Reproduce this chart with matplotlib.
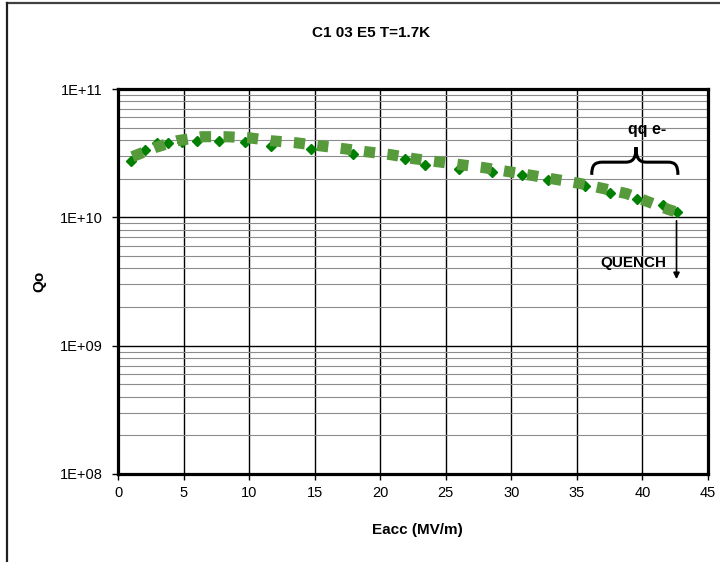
import numpy as np
import matplotlib
matplotlib.use("Agg")
import matplotlib.pyplot as plt
from matplotlib.path import Path
from matplotlib.patches import PathPatch
from matplotlib.lines import Line2D
from matplotlib.ticker import FixedLocator, FuncFormatter, NullFormatter

plt.rcParams['font.family'] = ['Liberation Sans', 'DejaVu Sans']

# measured points, Qo vs Eacc at 1.7 K
eacc = [1.0, 2.05, 2.95, 3.8, 4.9, 6.05, 7.7, 9.7, 11.7, 14.7, 17.9, 21.9,
        23.4, 26.0, 28.5, 30.8, 32.8, 35.6, 37.5, 39.6, 41.6, 42.6]
qo = [2.77e10, 3.37e10, 3.81e10, 3.81e10, 3.88e10, 3.95e10, 3.95e10, 3.88e10,
      3.61e10, 3.43e10, 3.13e10, 2.87e10, 2.58e10, 2.40e10, 2.27e10, 2.12e10,
      1.97e10, 1.74e10, 1.56e10, 1.38e10, 1.24e10, 1.11e10]

# smoothed curve through the measurements
trend_e = [1.1, 2.8, 4.5, 6.4, 8.2, 10.0, 11.7, 13.6, 15.4, 17.2, 18.9, 20.8,
           22.5, 27.9, 31.6, 35.2, 38.8, 42.0, 42.7]
trend_q = [2.97e10, 3.49e10, 3.95e10, 4.25e10, 4.25e10, 4.17e10, 3.95e10,
           3.81e10, 3.61e10, 3.43e10, 3.25e10, 3.08e10, 2.87e10, 2.44e10,
           2.12e10, 1.84e10, 1.53e10, 1.15e10, 1.09e10]

x_ticks = [0, 5, 10, 15, 20, 25, 30, 35, 40, 45]
y_major = [1e8, 1e9, 1e10, 1e11]

fig = plt.figure(figsize=(7.2, 5.62), dpi=100)
ax = fig.add_axes([0.1639, 0.1566, 0.8194, 0.685])

ax.plot(eacc, qo, linestyle='none', marker='D', markersize=4.6,
        color='#008000', zorder=3)
ax.plot(trend_e, trend_q, color='#569a3c', linewidth=8,
        linestyle=(0, (1.0, 1.12)), zorder=4)

ax.set_yscale('log')
ax.set_xlim(0, 45)
ax.set_ylim(1e8, 1e11)

ax.xaxis.set_major_locator(FixedLocator(x_ticks))
ax.yaxis.set_major_locator(FixedLocator(y_major))
minors = [m * 10.0 ** e for e in (8, 9, 10) for m in range(2, 10)]
ax.yaxis.set_minor_locator(FixedLocator(minors))
ax.yaxis.set_minor_formatter(NullFormatter())
ax.yaxis.set_major_formatter(
    FuncFormatter(lambda v, p: "1E+%02d" % int(round(np.log10(v)))))

ax.grid(True, which='major', axis='both', color='black', linewidth=1.0)
ax.grid(True, which='minor', axis='y', color='#8c8c8c', linewidth=0.8)
ax.set_axisbelow(True)

ax.tick_params(axis='both', which='major', direction='out', length=4,
               width=1, labelsize=10.5, color='black')
ax.tick_params(axis='y', which='major', pad=7)
ax.tick_params(axis='x', which='major', pad=5)
ax.tick_params(axis='y', which='minor', length=0)
for sp in ax.spines.values():
    sp.set_linewidth(2.3)
    sp.set_color('black')

ax.set_xlabel('Eacc (MV/m)', fontsize=11, fontweight='bold')
ax.xaxis.set_label_coords(0.508, -0.128)
ax.set_ylabel('Qo', fontsize=11, fontweight='bold')
ax.yaxis.set_label_coords(-0.122, 0.5)
fig.text(0.516, 0.941, 'C1 03 E5 T=1.7K', ha='center', va='center',
         fontsize=11, fontweight='bold')

# brace over the field-emission region
brace = [
    ((0.803, 0.777), Path.MOVETO),
    ((0.803, 0.803), Path.CURVE4), ((0.808, 0.810), Path.CURVE4),
    ((0.822, 0.810), Path.CURVE4),
    ((0.860, 0.810), Path.LINETO),
    ((0.872, 0.810), Path.CURVE4), ((0.878, 0.818), Path.CURVE4),
    ((0.878, 0.849), Path.CURVE4),
    ((0.878, 0.818), Path.CURVE4), ((0.884, 0.810), Path.CURVE4),
    ((0.896, 0.810), Path.CURVE4),
    ((0.932, 0.810), Path.LINETO),
    ((0.944, 0.810), Path.CURVE4), ((0.949, 0.803), Path.CURVE4),
    ((0.949, 0.777), Path.CURVE4),
]
verts, codes = zip(*brace)
ax.add_patch(PathPatch(Path(verts, codes), facecolor='none',
                       edgecolor='black', linewidth=2.2,
                       transform=ax.transAxes, zorder=5))
ax.text(0.897, 0.896, 'qq e-', transform=ax.transAxes, ha='center',
        va='center', fontsize=11.5, fontweight='bold')

# quench marker
ax.annotate('', xy=(42.6, 3.3e9), xytext=(42.6, 9.4e9),
            arrowprops=dict(arrowstyle='-|>', color='black', lw=1.2,
                            mutation_scale=9, shrinkA=0, shrinkB=0),
            zorder=5)
ax.text(0.873, 0.548, 'QUENCH', transform=ax.transAxes, ha='center',
        va='center', fontsize=11, fontweight='bold')

# chart frame
fig.add_artist(Line2D([0.0097, 1.0], [0.9947, 0.9947], color='#404040',
                      linewidth=1.6, transform=fig.transFigure))
fig.add_artist(Line2D([0.0097, 0.0097], [0.0, 0.9947], color='#202020',
                      linewidth=1.6, transform=fig.transFigure))

fig.savefig('out.png', dpi=100)
